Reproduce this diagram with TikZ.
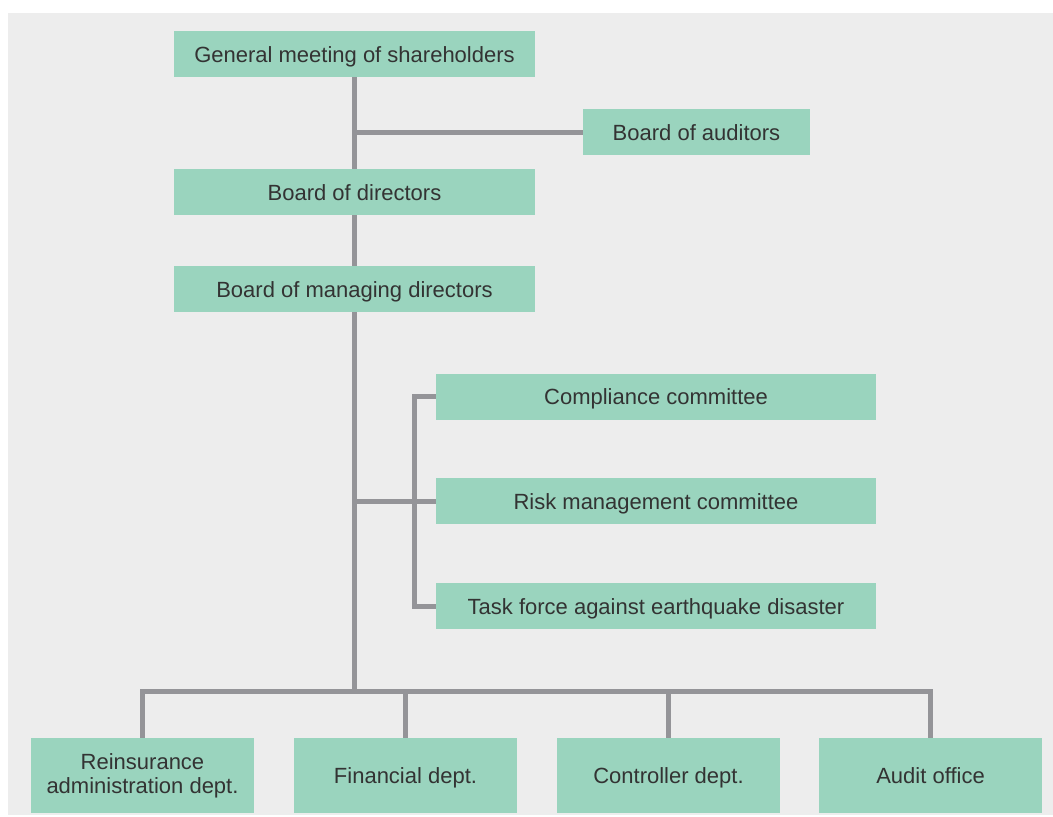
\documentclass[tikz,border=0pt]{standalone}
\usepackage{fontspec}
\setmainfont{Liberation Sans}
\definecolor{fondo}{HTML}{EDEDED}
\definecolor{caja}{HTML}{9AD4BE}
\definecolor{linea}{HTML}{949498}
\definecolor{texto}{HTML}{333333}

\begin{document}
\begin{tikzpicture}[x=0.5pt, y=-0.5pt,
		organ/.style = {fill = caja, text = texto, inner sep = 0pt, font = \fontsize{11}{13}\selectfont, align = center},
		linea1/.style = {organ, text height = 8pt, text depth = 0pt},
		wide/.style = {linea1, minimum width = 180.5pt, minimum height = 23pt},
		comm/.style = {linea1, minimum width = 220pt, minimum height = 23pt},
		dept/.style = {organ, minimum width = 111.5pt, minimum height = 37.5pt},
		enlace/.style = {draw = linea, line width = 2.5pt}]
				% fondo
				\useasboundingbox (0,0) rectangle (1053,816);
				\fill[fondo] (8,13) rectangle (1053,815);
				% organos de gobierno
				\node[wide] (gm) at (354.5,54) {General meeting of shareholders};
				\node[linea1, minimum width = 113.5pt, minimum height = 23pt] (aud) at (696.5,132) {Board of auditors};
				\node[wide] (bd) at (354.5,192) {Board of directors};
				\node[wide] (bmd) at (354.5,289) {Board of managing directors};
				% comites
				\node[comm] (cc) at (656,396.5) {Compliance committee};
				\node[comm] (rm) at (656,501) {Risk management committee};
				\node[comm] (tf) at (656,606) {Task force against earthquake disaster};
				% departamentos
				\node[dept] (ra) at (142.5,775.5) {Reinsurance\\[-1pt]administration dept.};
				\node[dept, linea1] (fd) at (405.5,775.5) {Financial dept.};
				\node[dept, linea1] (cd) at (668.5,775.5) {Controller dept.};
				\node[dept, linea1] (ao) at (930.5,775.5) {Audit office};
				%lineas
				\coordinate (bus) at (354.5,691);
				\coordinate (brk) at (414,0);
				\draw[enlace] (gm.south) -- (bd.north);
				\draw[enlace] (gm.south |- aud.west) -- (aud.west);
				\draw[enlace] (bd.south) -- (bmd.north);
				\draw[enlace] (bmd.south) -- (bus);
				\draw[enlace] (bmd.south |- rm.west) -- (rm.west);
				\draw[enlace] (cc.west) -- (brk |- cc.west) -- (brk |- tf.west) -- (tf.west);
				\draw[enlace] (ra.north) -- (ra.north |- bus) -- (ao.north |- bus) -- (ao.north);
				\draw[enlace] (fd.north) -- (fd.north |- bus);
				\draw[enlace] (cd.north) -- (cd.north |- bus);
			\end{tikzpicture}
\end{document}
